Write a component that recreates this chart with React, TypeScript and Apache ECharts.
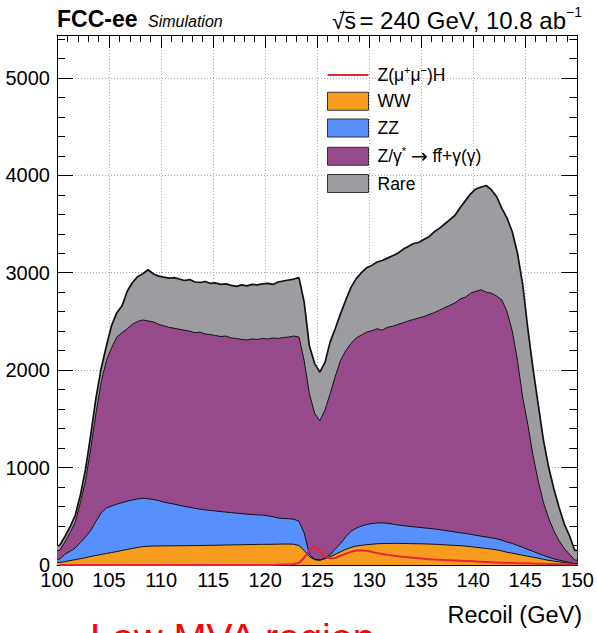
import { useEffect, useRef } from "react";
import * as echarts from "echarts";

// Recoil-mass histogram binning (GeV)
const BIN_START = 100;
const BIN_WIDTH = 0.5;
const BIN_COUNT = 100;

// Events per bin, one array per background process (stacked bottom to top)
const ww = [
  25, 35, 45, 55, 65, 75, 88, 98, 108, 118, 128, 138, 150, 160, 170, 180, 188, 192, 194, 195,
  196, 197, 197, 198, 198, 199, 200, 200, 201, 202, 203, 204, 205, 206, 207, 208, 209, 210, 211, 212,
  212, 213, 214, 215, 215, 213,
  200, 150, 85, 55, 48, 65, 85, 110, 135, 160, 180, 195, 202, 208, 213, 218, 220, 221, 222, 222,
  221, 220, 219, 218, 217, 215, 213, 210, 207, 204, 201, 198, 194, 188, 182, 176, 170, 163, 155, 145,
  130, 122, 110, 100, 90, 80, 70, 58, 48, 40, 32, 25, 18, 10,
];

const zz = [
  35, 75, 95, 120, 165, 215, 267, 352, 427, 467, 477, 487, 490, 495, 498, 498, 497, 488, 478, 467,
  449, 438, 428, 414, 404, 393, 382, 373, 365, 358, 351, 344, 338, 331, 325, 319, 313, 308, 304, 300,
  293, 282, 268, 263, 260, 257,
  250, 180, 25, 5, 4, 5, 20, 55, 85, 130, 165, 183, 198, 207, 212, 214, 212, 207, 198, 189,
  184, 178, 173, 169, 164, 161, 157, 153, 148, 143, 138, 133, 130, 127, 123, 120, 118, 115, 113, 110,
  105, 100, 90, 82, 70, 60, 48, 40, 32, 24, 18, 13, 8, 4,
];

const zgamma = [
  90, 125, 190, 265, 410, 580, 845, 1110, 1345, 1515, 1625, 1715, 1745, 1770, 1802, 1822, 1830, 1825, 1823, 1808,
  1810, 1805, 1805, 1808, 1808, 1808, 1803, 1817, 1804, 1805, 1801, 1797, 1807, 1793, 1793, 1788, 1788, 1802, 1800, 1813,
  1815, 1835, 1843, 1857, 1865, 1880,
  1890, 1770, 1650, 1500, 1428, 1520, 1655, 1775, 1880, 1910, 1930, 1952, 1960, 1975, 1980, 1993, 1978, 2012, 2030, 2059,
  2080, 2107, 2128, 2148, 2169, 2194, 2220, 2252, 2285, 2318, 2351, 2399, 2426, 2475, 2505, 2529, 2512, 2512, 2492, 2465,
  2365, 2178, 1900, 1538, 1280, 980, 742, 542, 400, 286, 200, 132, 84, 36,
];

const rare = [
  50, 55, 60, 70, 80, 120, 140, 160, 140, 150, 230, 250, 275, 385, 430, 460, 475, 525, 495, 495,
  500, 505, 520, 515, 510, 530, 520, 510, 540, 525, 540, 535, 535, 540, 535, 560, 555, 560, 560, 560,
  570, 550, 580, 580, 585, 585,
  610, 600, 490, 510, 500, 490, 530, 490, 480, 520, 575, 610, 640, 660, 670, 685, 715, 710, 725, 730,
  755, 765, 780, 775, 790, 800, 830, 840, 860, 880, 900, 940, 990, 1020, 1050, 1055, 1095, 1060, 1020, 940,
  960, 1020, 1100, 1160, 980, 890, 780, 640, 520, 430, 340, 250, 190, 100,
];

// Z(mu+mu-)H signal, drawn unstacked
const signal = [
  0, 0, 0, 0, 0, 0, 0, 0, 0, 0, 0, 0, 0, 0, 0, 0, 0, 0, 0, 0,
  0, 0, 0, 0, 0, 0, 0, 0, 0, 0, 0, 0, 0, 0, 0, 0, 0, 0, 0, 0,
  0, 0, 2, 4, 6, 10,
  20, 75, 150, 192, 150, 85, 68, 72, 95, 115, 135, 148, 150, 145, 135, 122, 112, 104, 97, 91,
  85, 79, 74, 69, 64, 60, 56, 53, 50, 48, 46, 44, 42, 40, 37, 34, 31, 28, 25, 23,
  21, 20, 19, 18, 17, 15, 14, 12, 11, 9, 8, 7, 6, 5,
];

const SIG_NAME = "Z(μ+μ−)H";
const ZG_NAME = "Z/γ* → ff̄+γ(γ)";

const FONT = '"Liberation Sans", Arial, Helvetica, sans-serif';
const COLORS = {
  ww: "#f89c20",
  zz: "#5790fc",
  zgamma: "#964a8b",
  rare: "#9c9ca1",
  signal: "#e42536",
};

// legend glyph for the signal: a short horizontal stroke inside a 41x18 box
const LINE_ICON =
  "path://M0,0L41,0L41,0.01L0,0.01Z M0,8.1L41,8.1L41,9.9L0,9.9Z M0,17.99L41,17.99L41,18L0,18Z";

export default function App() {
  const ref = useRef<HTMLDivElement>(null);

  useEffect(() => {
    if (!ref.current) return;
    const chart = echarts.init(ref.current, null, { renderer: "svg" });

    const centers = Array.from(
      { length: BIN_COUNT },
      (_, i) => BIN_START + (i + 0.5) * BIN_WIDTH
    );
    const xEnd = BIN_START + BIN_COUNT * BIN_WIDTH;

    // cumulative stack tops: WW, WW+ZZ, ...+Z/γ*, ...+Rare
    const tops: number[][] = [];
    let acc = new Array(BIN_COUNT).fill(0);
    for (const layer of [ww, zz, zgamma, rare]) {
      acc = acc.map((a: number, i: number) => a + layer[i]);
      tops.push(acc);
    }

    // bin contents at bin centres, held flat out to the outer range edges
    const histData = (vals: number[]) => [
      [BIN_START, vals[0]],
      ...centers.map((x, i) => [x, vals[i]]),
      [xEnd, vals[vals.length - 1]],
    ];

    const layer = (name: string, vals: number[], color: string, width: number) => ({
      name,
      type: "line",
      data: histData(vals),
      symbol: "none",
      showSymbol: false,
      itemStyle: { color },
      lineStyle: { color: "#111", width },
      areaStyle: { color, opacity: 1 },
      xAxisIndex: 0,
      yAxisIndex: 0,
    });

    const boxItem = (name: string, color: string) => ({
      name,
      icon: "rect",
      itemStyle: { color, borderColor: "#333", borderWidth: 1 },
    });

    const tickStyle = { color: "#000", width: 1 };
    const frame = { show: true, onZero: false, lineStyle: { color: "#000", width: 1 } };
    const grid = { color: "#a9a9a9", type: [1, 2], width: 1 };

    chart.setOption({
      animation: false,
      backgroundColor: "#fff",
      textStyle: { fontFamily: FONT },
      grid: { left: 57, right: 15, top: 35, bottom: 68 },
      xAxis: [
        {
          type: "value",
          position: "bottom",
          min: 100,
          max: 150,
          interval: 5,
          axisLine: frame,
          axisTick: { show: true, inside: true, length: 14, lineStyle: tickStyle },
          minorTick: { show: true, splitNumber: 5, length: 7, lineStyle: tickStyle },
          axisLabel: { fontSize: 20, color: "#000", fontFamily: FONT, margin: 5 },
          splitLine: { show: true, lineStyle: grid },
        },
        {
          type: "value",
          position: "top",
          min: 100,
          max: 150,
          interval: 5,
          axisLine: frame,
          axisTick: { show: true, inside: true, length: 13, lineStyle: tickStyle },
          minorTick: { show: true, splitNumber: 5, length: 7, lineStyle: tickStyle },
          axisLabel: { show: false },
          splitLine: { show: false },
        },
      ],
      yAxis: [
        {
          type: "value",
          position: "left",
          min: 0,
          max: 5440,
          interval: 1000,
          axisLine: frame,
          axisTick: { show: true, inside: true, length: 16, lineStyle: tickStyle },
          axisLabel: {
            fontSize: 20,
            color: "#000",
            fontFamily: FONT,
            margin: 7,
            formatter: (v: number) => (v % 1000 === 0 ? String(v) : ""),
          },
          splitLine: { show: true, lineStyle: grid },
        },
        {
          type: "value",
          position: "left",
          min: 0,
          max: 5440,
          interval: 200,
          axisLine: { show: false },
          axisTick: { show: true, inside: true, length: 8, lineStyle: tickStyle },
          axisLabel: { show: false },
          splitLine: { show: false },
        },
        {
          type: "value",
          position: "right",
          min: 0,
          max: 5440,
          interval: 1000,
          axisLine: frame,
          axisTick: { show: true, inside: true, length: 16, lineStyle: tickStyle },
          axisLabel: { show: false },
          splitLine: { show: false },
        },
        {
          type: "value",
          position: "right",
          min: 0,
          max: 5440,
          interval: 200,
          axisLine: { show: false },
          axisTick: { show: true, inside: true, length: 8, lineStyle: tickStyle },
          axisLabel: { show: false },
          splitLine: { show: false },
        },
      ],
      legend: {
        orient: "vertical",
        left: 327,
        top: 64,
        padding: 0,
        itemWidth: 41,
        itemHeight: 18,
        itemGap: 7.75,
        selectedMode: false,
        data: [
          { name: SIG_NAME, icon: LINE_ICON, itemStyle: { color: COLORS.signal, borderWidth: 0 } },
          boxItem("WW", COLORS.ww),
          boxItem("ZZ", COLORS.zz),
          boxItem(ZG_NAME, COLORS.zgamma),
          boxItem("Rare", COLORS.rare),
        ],
        formatter: (name: string) => {
          if (name === SIG_NAME) return "{t|Z(μ}{s|+}{t|μ}{s|−}{t|)H}";
          if (name === ZG_NAME) return "{t|Z/γ}{s|*}{t| }{a|→}{t| ff\u0304+γ(γ)}";
          return `{t|${name}}`;
        },
        textStyle: {
          color: "#000",
          fontFamily: FONT,
          fontSize: 17.5,
          padding: [0, 0, 0, 4],
          rich: {
            t: { fontSize: 17.5, lineHeight: 22, color: "#000", fontFamily: FONT },
            a: { fontSize: 20, lineHeight: 22, color: "#000", fontFamily: '"DejaVu Sans", sans-serif' },
            s: { fontSize: 11, verticalAlign: "top", color: "#000", fontFamily: FONT },
          },
        },
      },
      series: [
        layer("Rare", tops[3], COLORS.rare, 1.7),
        layer(ZG_NAME, tops[2], COLORS.zgamma, 1),
        layer("ZZ", tops[1], COLORS.zz, 1),
        layer("WW", tops[0], COLORS.ww, 1),
        {
          name: SIG_NAME,
          type: "line",
          data: centers.map((x, i) => [x, signal[i]]),
          symbol: "none",
          showSymbol: false,
          itemStyle: { color: COLORS.signal },
          lineStyle: { color: COLORS.signal, width: 2 },
          xAxisIndex: 0,
          yAxisIndex: 0,
          z: 5,
        },
      ],
      graphic: [
        {
          type: "text",
          x: 57,
          y: 19,
          style: {
            text: "FCC-ee",
            fontFamily: FONT,
            fontSize: 23,
            fontWeight: "bold",
            fill: "#000",
            align: "left",
            verticalAlign: "middle",
          },
        },
        {
          type: "text",
          x: 148,
          y: 21,
          style: {
            text: "Simulation",
            fontFamily: FONT,
            fontSize: 16,
            fontStyle: "italic",
            fill: "#000",
            align: "left",
            verticalAlign: "middle",
          },
        },
        {
          type: "text",
          x: 332,
          y: 20.5,
          style: {
            text: "√s",
            fontFamily: FONT,
            fontSize: 23,
            fill: "#000",
            align: "left",
            verticalAlign: "middle",
          },
        },
        {
          type: "line",
          shape: { x1: 340, y1: 12.5, x2: 354, y2: 12.5 },
          style: { stroke: "#000", lineWidth: 1.2 },
        },
        {
          type: "text",
          x: 582,
          y: 20.5,
          style: {
            text: "{m|= 240 GeV, 10.8 ab}{s|−1}",
            align: "right",
            verticalAlign: "middle",
            rich: {
              m: { fontFamily: FONT, fontSize: 24, lineHeight: 32, fill: "#000" },
              s: { fontFamily: FONT, fontSize: 14, verticalAlign: "top", fill: "#000" },
            },
          },
        },
        {
          type: "text",
          x: 582,
          y: 615,
          style: {
            text: "Recoil (GeV)",
            fontFamily: FONT,
            fontSize: 23.5,
            fill: "#000",
            align: "right",
            verticalAlign: "middle",
          },
        },
        {
          type: "text",
          x: 90,
          y: 636.5,
          style: {
            text: "Low MVA region",
            fontFamily: FONT,
            fontSize: 39.5,
            fill: "#ff0000",
            align: "left",
            verticalAlign: "middle",
          },
        },
      ],
    });

    return () => chart.dispose();
  }, []);

  return (
    <div
      ref={ref}
      style={{ position: "fixed", left: 0, top: 0, width: 597, height: 633, background: "#fff" }}
    />
  );
}
